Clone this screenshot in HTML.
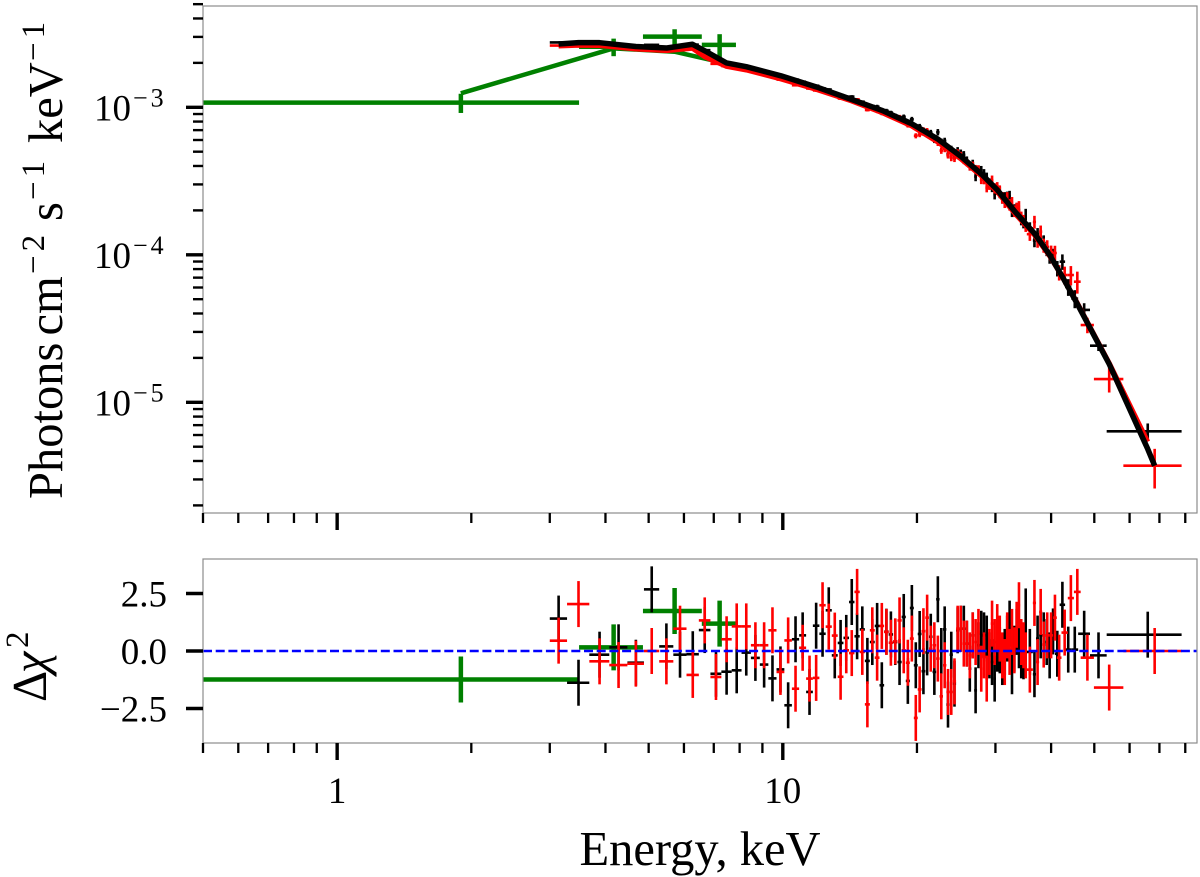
<!DOCTYPE html>
<html lang="en">
<head>
<meta charset="utf-8">
<title>X-ray spectrum with residuals</title>
<style>
html,body{margin:0;padding:0;background:#fff;}
svg{display:block;}
text{font-family:"Liberation Serif","DejaVu Serif",serif;fill:#000;}
</style>
</head>
<body>
<svg id="chart" xmlns="http://www.w3.org/2000/svg" width="1200" height="877" viewBox="0 0 1200 877">
  <defs>
    <clipPath id="clip-top"><rect x="203" y="6" width="994" height="507"/></clipPath>
    <clipPath id="clip-bottom"><rect x="203" y="559" width="994" height="184"/></clipPath>
  </defs>
  <rect x="0" y="0" width="1200" height="877" fill="#fff"/>
  <g id="top-data" clip-path="url(#clip-top)"></g>
  <g id="bottom-data" clip-path="url(#clip-bottom)"></g>
  <rect x="203" y="6" width="994" height="507" fill="none" stroke="#8c8c8c" stroke-width="1.2"/>
  <rect x="203" y="559" width="994" height="184" fill="none" stroke="#8c8c8c" stroke-width="1.2"/>
  <g id="axes"></g>
  <text transform="translate(62,502) rotate(-90)" font-size="48.5"><tspan x="3" y="0">Photons</tspan><tspan x="166.5" y="0">cm</tspan><tspan x="228" y="-18" font-size="33" letter-spacing="4">−2</tspan><tspan x="281" y="0">s</tspan><tspan x="302" y="-18" font-size="33" letter-spacing="4">−1</tspan><tspan x="359" y="0">keV</tspan><tspan x="441" y="-18" font-size="33" letter-spacing="4">−1</tspan></text>
  <text transform="translate(46,702) rotate(-90)" font-size="48.5"><tspan x="0" y="0">Δ</tspan><tspan x="29" y="0" font-style="italic">χ</tspan><tspan x="54" y="-18" font-size="33">2</tspan></text>
  <text x="700" y="865" font-size="48.5" text-anchor="middle">Energy, keV</text>
</svg>
<script>
// ---------- data arrays ----------
// shared bin edges, keV
const energyEdges = [3.0,3.28,3.68,4.08,4.48,4.88,5.28,5.68,6.08,6.48,6.88,7.28,7.68,8.08,8.48,8.88,9.28,9.68,10.08,10.48,10.88,11.28,11.68,12.08,12.48,12.88,13.28,13.68,14.08,14.48,14.88,15.28,15.68,16.08,16.48,16.88,17.28,17.68,18.08,18.48,18.88,19.28,19.68,20.08,20.48,20.88,21.28,21.68,22.08,22.48,22.88,23.28,23.68,24.08,24.48,24.88,25.28,25.68,26.08,26.48,26.88,27.28,27.68,28.08,28.48,28.88,29.28,29.68,30.08,30.48,30.88,31.28,31.68,32.08,32.48,32.88,33.28,33.68,34.08,34.48,34.88,35.28];
const blackTailEdges = [36.4,37,37.6,38.2,38.8,39.4,40,40.8,41.8,43,44.4,46,48.9,53.3,78.5];
const redTailEdges = [36.4,37,37.6,38.2,38.8,39.6,40.4,41.2,42.2,43.6,45,46.6,49.9,58.1,78.5];
const greenEdges = [0.3,3.49,4.855,6.58,7.85];

// flux, units of 1e-3 photons cm^-2 s^-1 keV^-1
const blackFlux = [2.75,2.68,2.73,2.67,2.56,2.65,2.53,2.59,2.66,2.44,2.15,1.97,1.92,1.88,1.81,1.74,1.66,1.62,1.52,1.54,1.49,1.38,1.4,1.345,1.32,
1.24,1.215,1.18,1.182,1.115,1.09,1.03,1.02,1.01,0.911,0.948,0.92,0.88,0.831,0.863,0.759,0.828,0.726,0.742,0.672,0.673,0.673,0.602,0.678,0.585,0.592,0.481,0.52,0.466,0.509,0.49,0.476,0.438,0.396,0.416,0.339,0.377,0.374,0.356,0.337,0.305,0.289,0.258,0.277,
0.266,0.244,0.244,0.246,0.249,0.198,0.202,0.206,0.189,0.174,0.166,0.188,
0.151,0.125,0.138,0.131,0.122,0.11,0.0977,0.099,0.081,0.0898,0.0605,0.0505,0.0423,0.0242,0.00636];
const redFlux = [2.62,2.71,2.6,2.53,2.47,2.45,2.4,2.5,2.47,2.24,1.97,1.9,1.86,1.81,1.73,1.67,1.62,1.54,1.51,1.41,1.4,1.34,1.3,1.32,1.26,
1.233,1.146,1.141,1.1,1.131,1.039,0.958,1.0,0.941,0.952,0.917,0.88,0.858,0.858,0.796,0.755,0.763,0.641,0.653,0.701,0.692,0.633,0.612,0.575,0.509,0.522,0.473,0.456,0.45,0.492,0.473,0.438,0.424,0.396,0.404,0.38,0.378,0.324,0.323,0.285,0.299,0.319,0.283,0.288,
0.271,0.244,0.228,0.244,0.219,0.226,0.198,0.207,0.212,0.18,0.171,0.157,
0.138,0.167,0.124,0.1435,0.116,0.113,0.104,0.1028,0.076,0.0729,0.0729,0.0657,0.0334,0.01438,0.00372];
const greenFlux = [1.075,2.57,3.01,2.65];
const greenFluxErr = [0.16,0.35,0.37,0.48];

// fractional flux uncertainty for the shared bins and for each tail
const relFluxErr = [0.016,0.016,0.016,0.016,0.016,0.016,0.016,0.016,0.016,0.016,0.016,0.016,0.016,0.016,0.016,0.016,0.016,0.016,0.018,0.018,0.018,0.02,0.02,0.02,0.02,
0.022,0.022,0.022,0.022,0.022,0.022,0.022,0.022,0.03,0.03,0.03,0.03,0.03,0.035,0.035,0.035,0.04,0.04,0.04,0.045,0.045,0.045,0.05,0.05,0.05,0.05,0.05,0.055,0.055,0.055,0.055,0.06,0.06,0.06,0.06,0.07,0.07,0.07,0.07,0.07,0.08,0.08,0.08,0.08,
0.09,0.09,0.09,0.09,0.09,0.09,0.09,0.09,0.09,0.09,0.09,0.09];
const blackTailRelErr = [0.1,0.1,0.1,0.1,0.11,0.11,0.11,0.11,0.12,0.12,0.13,0.14,0.11,0.08,0.13];
const redTailRelErr = [0.1,0.1,0.1,0.1,0.11,0.11,0.11,0.12,0.12,0.14,0.15,0.17,0.12,0.19,0.3];

// residuals, delta chi^2 panel (each with a unit error bar)
const blackChi = [1.41,-1.38,-0.16,0.16,-0.51,2.68,0.2,-0.16,-0.14,0.91,-0.99,-0.9,-0.84,-0.07,-0.3,-0.59,-1.19,-0.8,-2.36,0.51,0.68,-1.78,1.1,0.75,1.77,
-0.19,0.35,0.57,2.13,0.64,0.94,-0.43,0.39,1.09,-1.49,0.84,0.72,0.39,-0.48,1.48,-1.3,1.87,-0.62,0.74,-0.88,-0.06,0.62,-0.91,2.25,0,0.94,-2.33,-0.16,-1.42,0.9,0.97,0.97,0.32,-0.77,0.68,-1.71,0.25,0.75,0.68,0.54,-0.19,-0.48,-1.2,0.1,
0.03,-0.48,-0.04,0.54,1.19,-0.88,0.1,0.83,0.25,-0.19,-0.23,1.72,
-0.04,-1.01,0.54,0.68,0.68,0.39,-0.19,0.85,-0.12,2.01,0.06,0.06,0.75,-0.19,0.71];
const redChi = [0.45,2.04,-0.45,-0.61,-0.55,0,-0.45,0.97,-1.04,1.33,-1.13,0.51,1.07,1.07,0.25,0.25,0.9,-0.91,0.46,-1.64,0.14,-1.2,-1.17,1.99,1.06,
0.67,-1.12,0.03,-0.09,2.57,-0.04,-2.32,0.9,-0.29,1.09,0.83,0.36,0.42,1.33,0.03,-0.51,0.54,-2.91,-1.67,0.86,1.45,0.1,0.25,-0.33,-1.97,-0.62,-1.78,-1.78,-1.32,0.97,0.97,0.32,0.32,-0.19,0.68,0.39,0.83,-0.77,-0.19,-1.2,-0.04,1.19,0.39,1.04,
0.54,-0.19,-0.48,0.68,-0.04,0.83,0.03,1.14,1.99,0.39,0.25,-0.19,
-0.81,2.09,-0.48,1.7,0.28,0.68,0.68,1.45,-0.29,0.8,2.3,2.57,-0.29,-1.59,0];
const greenChi = [-1.24,0.16,1.74,1.19];
const chiErr = 1;

// model curves, units of 1e-3
const modelEnergy = [3.14,3.48,3.88,4.68,5.49,6.27,6.69,7.48,8.28,9.9,11.9,14.28,16.67,19.46,22.26,25.1,27.9,30.3,33.1,36.7,39.7,42.4,45.8,48.25,54,65.9,68.3];
const modelBlack = [2.687,2.741,2.741,2.584,2.523,2.674,2.408,1.997,1.885,1.635,1.373,1.129,0.954,0.774,0.61,0.464,0.353,0.275,0.198,0.1395,0.0997,0.071,0.0464,0.0345,0.01818,0.00482,0.00372];
const modelRed = [2.604,2.632,2.624,2.485,2.419,2.512,2.193,1.891,1.79,1.555,1.32,1.103,0.922,0.747,0.582,0.446,0.342,0.2666,0.192,0.1362,0.0981,0.0707,0.0471,0.035,0.01846,0.0054];
const modelGreen = [1.244,2.51,2.38,2.03];

// axis tick values
const xMajorTicks = [1,10];
const xMajorLabels = ["1","10"];
const xMinorTicks = [0.5,0.6,0.7,0.8,0.9,2,3,4,5,6,7,8,9,20,30,40,50,60,70,80];
const yMajorExponents = [-3,-4,-5];
const yMinorTicks = [5e-3,4e-3,3e-3,2e-3,9e-4,8e-4,7e-4,6e-4,5e-4,4e-4,3e-4,2e-4,9e-5,8e-5,7e-5,6e-5,5e-5,4e-5,3e-5,2e-5,9e-6,8e-6,7e-6,6e-6,5e-6,4e-6,3e-6,2e-6];
const chiTicks = [2.5,0,-2.5];
const chiLabels = ["2.5","0.0","−2.5"];

// ---------- scales ----------
const SVG_NS = "http://www.w3.org/2000/svg";
const xLo = Math.log10(0.5), xHi = Math.log10(85);
function xScale(e){ return 203 + (Math.log10(e) - xLo) / (xHi - xLo) * 994; }
const fTop = -2.3134, fBot = -5.7505;
function yFlux(f){ return 6 + (fTop - Math.log10(f)) / (fTop - fBot) * 507; }
function yChi(v){ return 651 - v * 23; }

const topLayer = document.getElementById("top-data");
const bottomLayer = document.getElementById("bottom-data");
const axisLayer = document.getElementById("axes");

function makeLine(parent, x1, y1, x2, y2, color, width){
  const l = document.createElementNS(SVG_NS, "line");
  l.setAttribute("x1", x1);
  l.setAttribute("y1", y1);
  l.setAttribute("x2", x2);
  l.setAttribute("y2", y2);
  l.setAttribute("stroke", color);
  l.setAttribute("stroke-width", width);
  parent.appendChild(l);
  return l;
}

function drawCross(parent, name, lo, hi, yMid, yUp, yDown, color, width){
  const g = document.createElementNS(SVG_NS, "g");
  
  
  const c = xScale((lo + hi) / 2);
  makeLine(g, xScale(lo), yMid, xScale(hi), yMid, color, width);
  makeLine(g, c, yUp, c, yDown, color, width);
  parent.appendChild(g);
}

function drawCurve(parent, name, es, fs, color, width){
  const p = document.createElementNS(SVG_NS, "polyline");
  
  
  p.setAttribute("points", es.map((e, i) => xScale(e).toFixed(2) + "," + yFlux(fs[i] * 1e-3).toFixed(2)).join(" "));
  p.setAttribute("fill", "none");
  p.setAttribute("stroke", color);
  p.setAttribute("stroke-width", width);
  p.setAttribute("stroke-linejoin", "round");
  parent.appendChild(p);
}

const blackEdges = energyEdges.concat(blackTailEdges);
const redEdges = energyEdges.concat(redTailEdges);
const blackRelErr = relFluxErr.concat(blackTailRelErr);
const redRelErr = relFluxErr.concat(redTailRelErr);

function drawSpectrumSeries(name, edges, flux, rel, color, width){
  flux.forEach((f, i) => {
    const v = f * 1e-3;
    drawCross(topLayer, name + "-flux-point", edges[i], edges[i + 1], yFlux(v), yFlux(v * (1 + rel[i])), yFlux(v * (1 - rel[i])), color, width);
  });
}
function drawResidualSeries(name, edges, chi, color, width){
  chi.forEach((v, i) => {
    drawCross(bottomLayer, name + "-residual-point", edges[i], edges[i + 1], yChi(v), yChi(v + chiErr), yChi(v - chiErr), color, width);
  });
}

// ---------- spectrum panel ----------
greenFlux.forEach((f, i) => {
  drawCross(topLayer, "green-flux-point", greenEdges[i], greenEdges[i + 1], yFlux(f * 1e-3), yFlux((f + greenFluxErr[i]) * 1e-3), yFlux((f - greenFluxErr[i]) * 1e-3), "#008000", 4.5);
});
drawSpectrumSeries("black", blackEdges, blackFlux, blackRelErr, "#000000", 2.6);
drawSpectrumSeries("red", redEdges, redFlux, redRelErr, "#ff0000", 2.6);
const greenCentres = greenFlux.map((f, i) => (greenEdges[i] + greenEdges[i + 1]) / 2);
drawCurve(topLayer, "green-model-line", greenCentres, modelGreen, "#008000", 4.5);
drawCurve(topLayer, "red-model-line", modelEnergy.slice(0, modelRed.length), modelRed, "#ff0000", 5);
drawCurve(topLayer, "black-model-line", modelEnergy, modelBlack, "#000000", 5.5);

// ---------- residual panel ----------
greenChi.forEach((v, i) => {
  drawCross(bottomLayer, "green-residual-point", greenEdges[i], greenEdges[i + 1], yChi(v), yChi(v + chiErr), yChi(v - chiErr), "#008000", 4.5);
});
drawResidualSeries("black", blackEdges, blackChi, "#000000", 2.6);
drawResidualSeries("red", redEdges, redChi, "#ff0000", 2.6);
const zeroLine = makeLine(bottomLayer, 203, yChi(0), 1197, yChi(0), "#0000ff", 2.5);


zeroLine.setAttribute("stroke-dasharray", "9 3.7");

// ---------- axes ----------
function tick(name, x1, y1, x2, y2, width){
  const t = makeLine(axisLayer, x1, y1, x2, y2, "#000", width);
  
  
}
function label(name, x, y, str, anchor){
  const t = document.createElementNS(SVG_NS, "text");
  
  
  t.setAttribute("x", x);
  t.setAttribute("y", y);
  t.setAttribute("font-size", "37");
  t.setAttribute("text-anchor", anchor);
  t.textContent = str;
  axisLayer.appendChild(t);
  return t;
}
[513, 743].forEach(base => {
  xMajorTicks.forEach(v => tick("x-major-tick", xScale(v), base, xScale(v), base + 17, 3.4));
  xMinorTicks.forEach(v => tick("x-minor-tick", xScale(v), base, xScale(v), base + 10, 2.3));
});
xMajorTicks.forEach((v, i) => label("x-tick-label", xScale(v), 803, xMajorLabels[i], "middle"));
yMajorExponents.forEach(p => {
  const y = yFlux(Math.pow(10, p));
  tick("y-major-tick", 203, y, 186, y, 3.4);
  const t = label("y-tick-label", 94, y + 13, "10", "start");
  const sup = document.createElementNS(SVG_NS, "tspan");
  sup.setAttribute("font-size", "26");
  sup.setAttribute("dy", "-14");
  sup.setAttribute("dx", "2");
  sup.setAttribute("letter-spacing", "3");
  sup.textContent = "−" + Math.abs(p);
  t.appendChild(sup);
});
yMinorTicks.forEach(v => tick("y-minor-tick", 203, yFlux(v), 193, yFlux(v), 2.4));
chiTicks.forEach((v, i) => {
  tick("residual-y-tick", 203, yChi(v), 186, yChi(v), 3.4);
  label("residual-y-tick-label", 167, yChi(v) + 13, chiLabels[i], "end");
});
</script>
</body>
</html>
